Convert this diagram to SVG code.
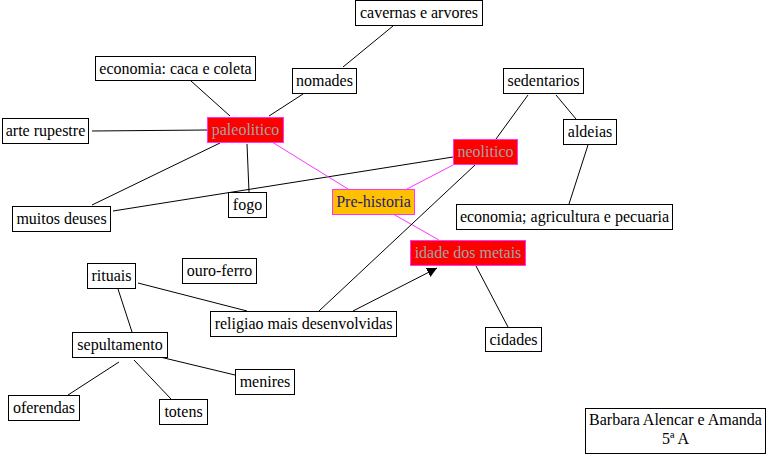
<svg xmlns="http://www.w3.org/2000/svg" width="770" height="456" viewBox="0 0 770 456" font-family="'Liberation Serif', 'Times New Roman', serif" font-size="16">
<style>
rect.n{fill:#fff;stroke:#000;stroke-width:1}
rect.r{fill:#ff0000;stroke:#ff33ff;stroke-width:1}
rect.o{fill:#ffc000;stroke:#ff33ff;stroke-width:1}
text{font-family:'Liberation Serif', 'Times New Roman', serif;font-size:16px;text-anchor:middle;fill:#000}
text.rt{fill:#98a6a6}
text.ot{fill:#1e1e6e}
#connectors line{stroke:#000;stroke-width:1}
#connectors line.m{stroke:#ff33ff}
</style>
<defs>
<marker id="arr" viewBox="0 0 10 10" refX="10" refY="5" markerWidth="10" markerHeight="10" markerUnits="userSpaceOnUse" orient="auto">
<path d="M0,0 L10,5 L0,10 z" fill="#000"/>
</marker>
</defs>
<rect width="770" height="456" fill="#fff"/>
<g id="connectors">
<line x1="393" y1="26" x2="343" y2="67"/>
<line x1="191" y1="81" x2="230" y2="116"/>
<line x1="303" y1="94" x2="269" y2="116"/>
<line x1="92" y1="131" x2="207" y2="130"/>
<line x1="220" y1="143" x2="92" y2="205"/>
<line x1="247" y1="144" x2="249" y2="192"/>
<line x1="113" y1="211" x2="453" y2="157"/>
<line class="m" x1="272" y1="142" x2="348" y2="189"/>
<line class="m" x1="453" y1="165" x2="407" y2="189"/>
<line class="m" x1="393" y1="214" x2="439" y2="240"/>
<line x1="528" y1="95" x2="496" y2="139"/>
<line x1="556" y1="95" x2="576" y2="119"/>
<line x1="588" y1="145" x2="569" y2="204"/>
<line x1="475" y1="165" x2="319" y2="311"/>
<line x1="353" y1="311" x2="437" y2="268" marker-end="url(#arr)"/>
<line x1="476" y1="266" x2="508" y2="327"/>
<line x1="138" y1="283" x2="247" y2="311"/>
<line x1="118" y1="289" x2="132" y2="332"/>
<line x1="119" y1="362" x2="68" y2="395"/>
<line x1="134" y1="360" x2="171" y2="399"/>
<line x1="160" y1="357" x2="235" y2="375"/>
</g>
<g id="cavernas"><rect class="n" x="355.5" y="0.5" width="127" height="25"/><text x="419" y="18">cavernas e arvores</text></g>
<g id="economia-caca"><rect class="n" x="95.5" y="56.5" width="160" height="24"/><text x="175.5" y="74">economia: caca e coleta</text></g>
<g id="nomades"><rect class="n" x="292.5" y="68.5" width="64" height="25"/><text x="324.5" y="86">nomades</text></g>
<g id="arte-rupestre"><rect class="n" x="2.5" y="118.5" width="86" height="25"/><text x="45.5" y="136">arte rupestre</text></g>
<g id="paleolitico"><rect class="r" x="207.5" y="117.5" width="76" height="25"/><text class="rt" x="245.5" y="135">paleolitico</text></g>
<g id="sedentarios"><rect class="n" x="503.5" y="68.5" width="80" height="25"/><text x="543.5" y="86">sedentarios</text></g>
<g id="aldeias"><rect class="n" x="563.5" y="119.5" width="53" height="25"/><text x="590" y="137">aldeias</text></g>
<g id="neolitico"><rect class="r" x="453.5" y="139.5" width="64" height="25"/><text class="rt" x="485.5" y="157">neolitico</text></g>
<g id="economia-agricultura"><rect class="n" x="456.5" y="204.5" width="216" height="25"/><text x="564.5" y="222">economia; agricultura e pecuaria</text></g>
<g id="pre-historia"><rect class="o" x="332.5" y="189.5" width="82" height="25"/><text class="ot" x="373.5" y="207">Pre-historia</text></g>
<g id="idade-dos-metais"><rect class="r" x="410.5" y="240.5" width="115" height="25"/><text class="rt" x="468" y="258">idade dos metais</text></g>
<g id="fogo"><rect class="n" x="228.5" y="192.5" width="38" height="25"/><text x="247.5" y="210">fogo</text></g>
<g id="muitos-deuses"><rect class="n" x="12.5" y="206.5" width="98" height="25"/><text x="61.5" y="224">muitos deuses</text></g>
<g id="rituais"><rect class="n" x="87.5" y="263.5" width="48" height="25"/><text x="111.5" y="281">rituais</text></g>
<g id="ouro-ferro"><rect class="n" x="182.5" y="258.5" width="74" height="25"/><text x="219.5" y="276">ouro-ferro</text></g>
<g id="religiao"><rect class="n" x="210.5" y="311.5" width="186" height="25"/><text x="303.5" y="329">religiao mais desenvolvidas</text></g>
<g id="sepultamento"><rect class="n" x="72.5" y="332.5" width="95" height="25"/><text x="120" y="350">sepultamento</text></g>
<g id="menires"><rect class="n" x="235.5" y="369.5" width="59" height="25"/><text x="265" y="387">menires</text></g>
<g id="oferendas"><rect class="n" x="8.5" y="395.5" width="71" height="25"/><text x="44" y="413">oferendas</text></g>
<g id="totens"><rect class="n" x="159.5" y="399.5" width="48" height="25"/><text x="183.5" y="417">totens</text></g>
<g id="cidades"><rect class="n" x="485.5" y="327.5" width="56" height="24"/><text x="513.5" y="345">cidades</text></g>
<g id="autores"><rect class="n" x="585.5" y="408.5" width="180" height="45"/><text x="675.5" y="425">Barbara Alencar e Amanda</text><text x="675.5" y="444">5ª A</text></g>
</svg>
